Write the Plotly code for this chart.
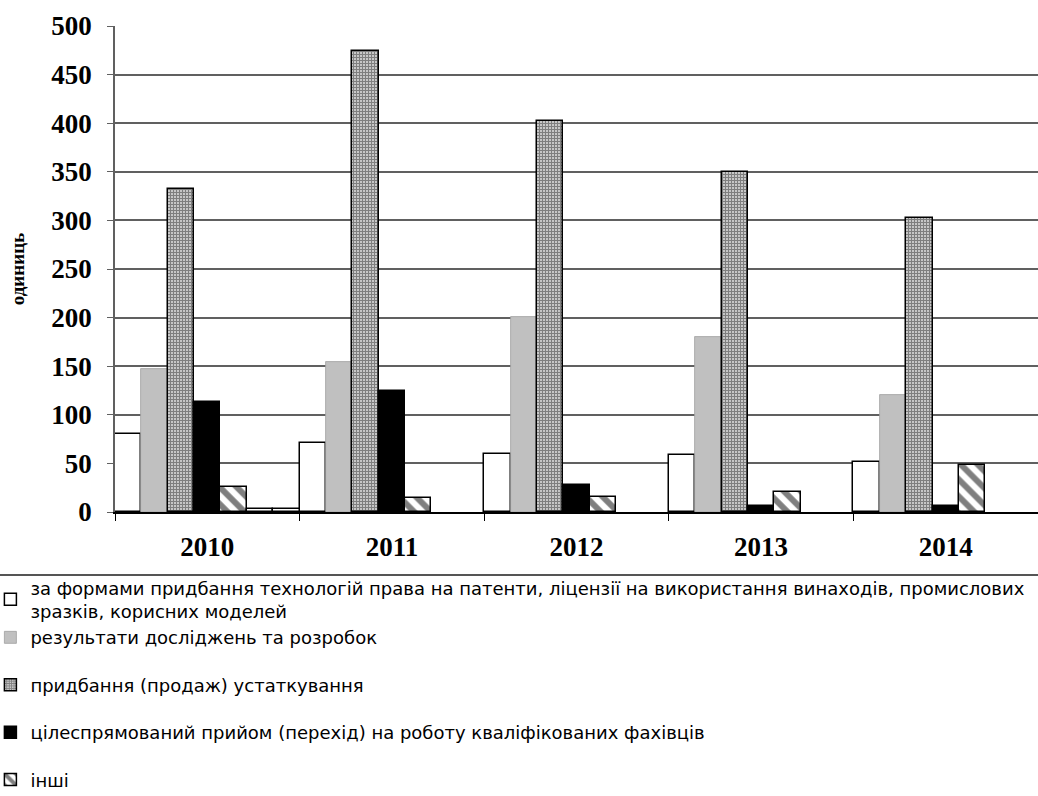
import plotly.graph_objects as go

years = ["2010", "2011", "2012", "2013", "2014"]
names = [
    "за формами придбання технологій права на патенти, ліцензії на використання винаходів, промислових<br>зразків, корисних моделей",
    "результати досліджень та розробок",
    "придбання (продаж) устаткування",
    "цілеспрямований прийом (перехід) на роботу кваліфікованих фахівців",
    "інші",
]
patents = [80, 71, 60, 59, 51]
research = [147, 154, 201, 180, 120]
equipment = [332, 474, 402, 350, 302]
specialists = [113, 125, 28, 6, 6]
others = [26, 14, 15, 21, 48]
extra_a = [3, None, None, None, None]
extra_b = [3, None, None, None, None]

FONT = "Liberation Serif, DejaVu Serif, serif"
LEGEND_FONT = "DejaVu Sans, Liberation Sans, sans-serif"
fig = go.Figure()

styles = [
    dict(color="white", line=dict(color="black", width=1.5)),
    dict(color="#c0c0c0", line=dict(color="#a0a0a0", width=0.8)),
    dict(color="white", line=dict(color="black", width=1.5),
         pattern=dict(shape="+", fgcolor="black", bgcolor="white", size=3, solidity=0.75)),
    dict(color="black", line=dict(color="black", width=1.5)),
    dict(color="white", line=dict(color="black", width=1.5),
         pattern=dict(shape="\\", fgcolor="black", bgcolor="white", size=12, solidity=0.5)),
]
groups = ["g1", "g1", "g2", "g3", "g4"]
for name, vals, st, g in zip(names, [patents, research, equipment, specialists, others], styles, groups):
    fig.add_trace(go.Bar(x=years, y=vals, name=name, marker=st, legendgroup=g))
for vals in [extra_a, extra_b]:
    fig.add_trace(go.Bar(x=years, y=vals, showlegend=False,
                         marker=dict(color="white", line=dict(color="black", width=1.5))))

fig.update_layout(
    width=1038, height=796,
    margin=dict(l=115, r=0, t=26, b=284, autoexpand=False),
    paper_bgcolor="white", plot_bgcolor="white",
    barmode="group", bargap=0, bargroupgap=0,
    font=dict(family=FONT, color="black"),
    legend=dict(
        x=-0.135, xanchor="left", y=-0.118, yanchor="top",
        orientation="v", traceorder="grouped", tracegroupgap=21,
        font=dict(family=LEGEND_FONT, size=18, color="black"),
        itemwidth=30, bgcolor="rgba(0,0,0,0)",
    ),
    shapes=[dict(type="line", xref="paper", yref="paper", x0=-0.2, x1=1.1,
                 y0=-0.1296, y1=-0.1296, line=dict(color="#555555", width=2))],
)
fig.update_yaxes(
    range=[0, 500], dtick=50, showgrid=True, gridcolor="#606060", gridwidth=1.5,
    showline=True, linecolor="#606060", linewidth=1.5, automargin=False,
    ticks="outside", ticklen=6, tickcolor="#606060", ticklabelstandoff=10,
    tickfont=dict(family=FONT, size=27, color="black", weight="bold"),
    title=dict(text="<b>одиниць</b>", font=dict(family=FONT, size=19), standoff=22),
    zeroline=False,
)
fig.update_xaxes(
    showline=True, linecolor="black", linewidth=1.5, automargin=False,
    ticks="outside", tickson="boundaries", ticklen=7, tickcolor="black", ticklabelstandoff=10,
    tickfont=dict(family=FONT, size=27, color="black", weight="bold"),
)
fig.write_html("out.html", config={"displayModeBar": False},
               post_script="document.body.style.margin='0';")
